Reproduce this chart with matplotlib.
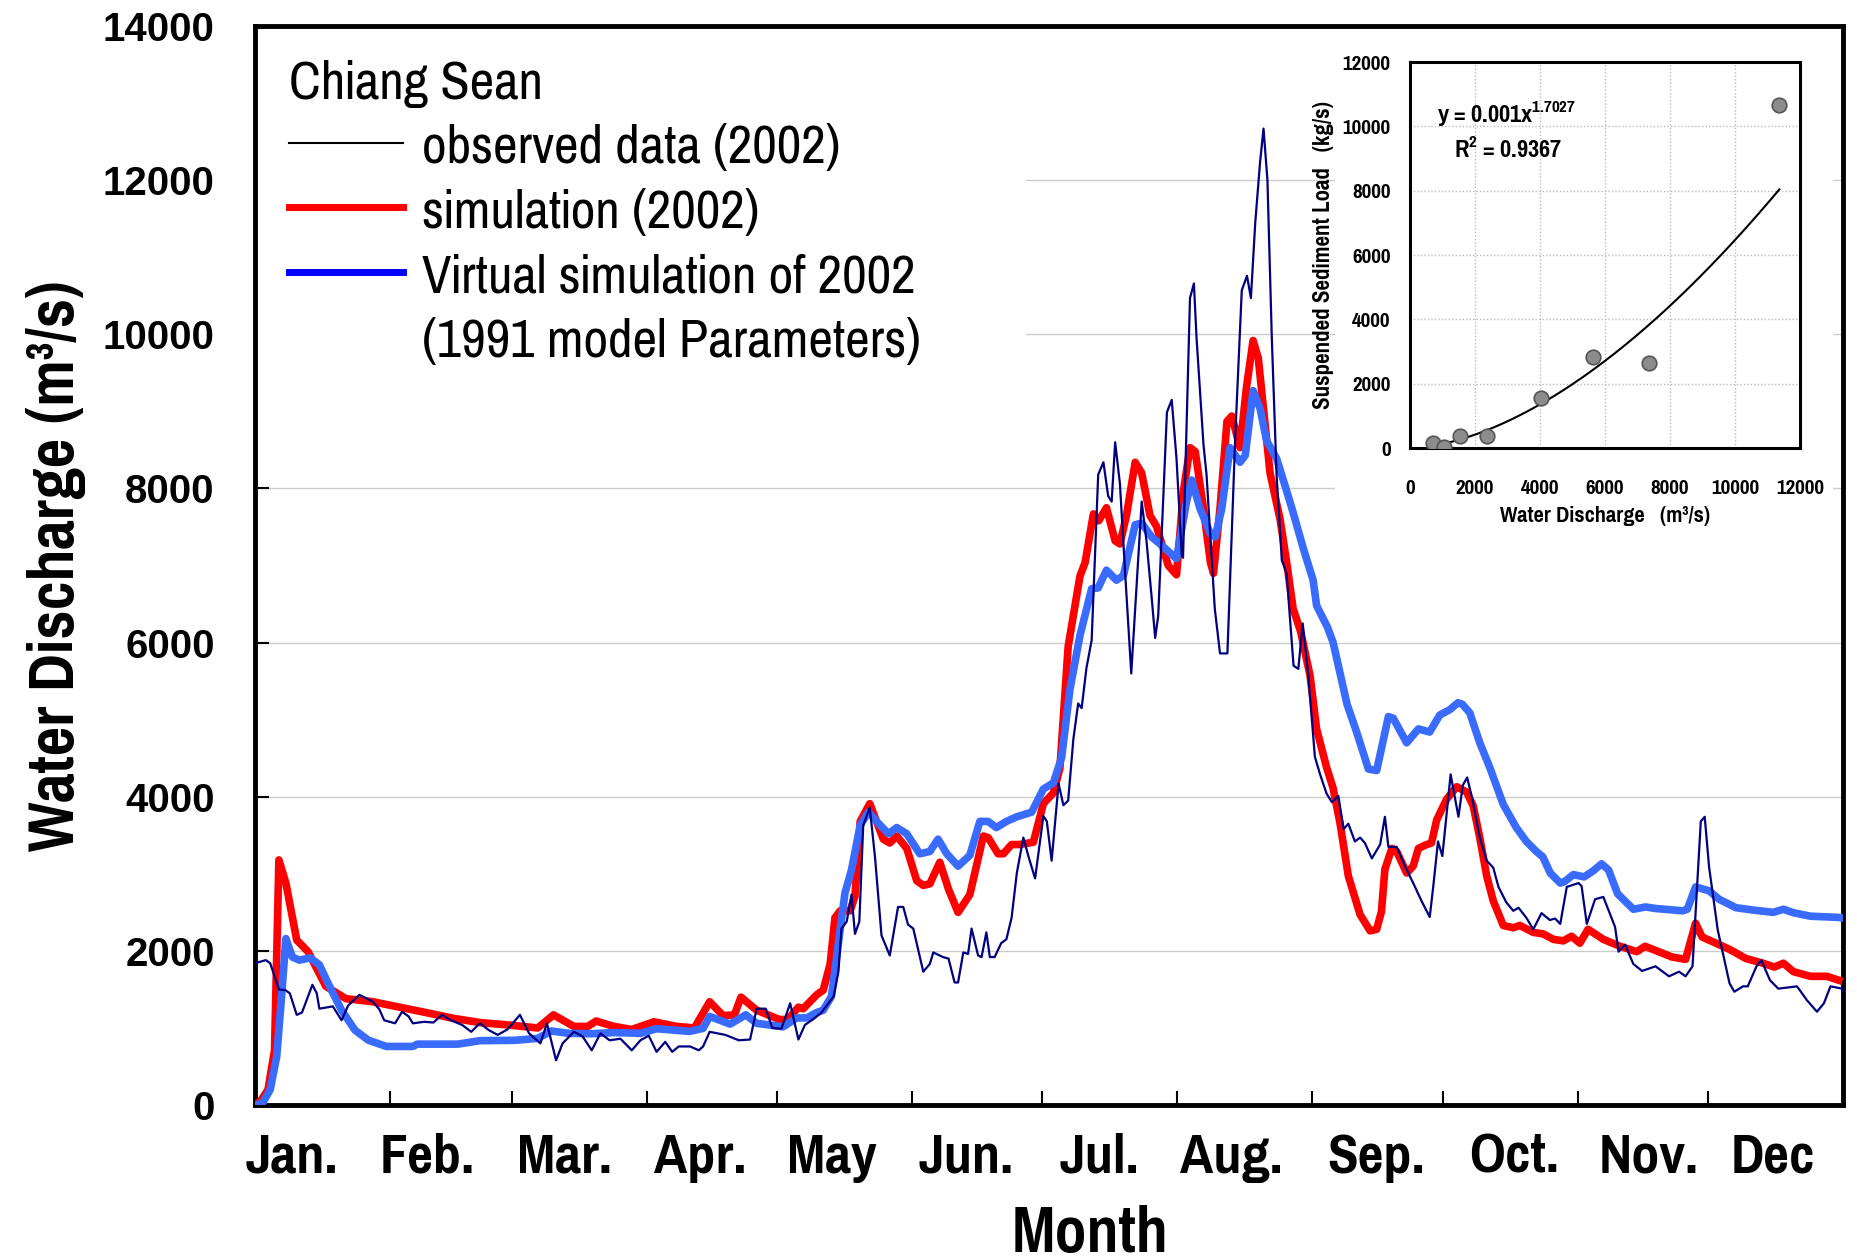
import matplotlib
matplotlib.use("Agg")
import matplotlib.pyplot as plt
from matplotlib.lines import Line2D
from matplotlib.patches import Rectangle
import numpy as np

plt.rcParams['mathtext.default'] = 'regular'
NARROW = ['Pragati Narrow', 'Liberation Sans', 'DejaVu Sans']
WIDE = ['Liberation Sans', 'DejaVu Sans']

# ---- daily discharge, Chiang Sean 2002 (day of year, m3/s) ----
obs_day = [0, 2.5, 3.5, 5.5, 7.0, 8.0, 9.6, 10.8, 12.0, 13.2, 14.2, 14.8, 17.9, 19.9, 21.4, 24.0,
           27.1, 28.6, 29.7, 32.2, 33.8, 35.3, 36.3, 38.9, 41.0, 43.0, 45.0, 47.6, 49.7, 51.7,
           53.8, 55.8, 58.0, 60.9, 63.0, 65.6, 67.1, 69.2, 70.7, 73.3, 75.3, 77.4, 79.4, 81.5,
           84.0, 86.6, 88.6, 90.5, 92.3, 94.3, 95.9, 97.4, 100.0, 102.0, 103.0, 104.5, 108.1,
           111.2, 113.8, 115.3, 117.4, 118.9, 121.0, 123.0, 124.9, 126.4, 128.7, 130.2, 133.0,
           134.1, 134.8, 136.0, 137.1, 137.9, 138.9, 139.8, 141.3, 142.5, 144.0, 145.9, 147.8,
           149.0, 150.1, 151.3, 153.6, 155.1, 155.9, 158.1, 159.4, 160.8, 161.6, 162.8, 163.9,
           164.7, 166.2, 167.0, 168.1, 168.9, 170.0, 171.5, 172.7, 173.9, 175.1, 176.6, 177.8,
           179.3, 181.2, 182.0, 183.1, 184.7, 185.8, 186.9, 188.1, 189.2, 190.0, 191.1, 192.3,
           193.8, 195.0, 196.1, 196.9, 197.7, 198.8, 200.0, 201.4, 203.8, 204.9, 206.1, 206.9,
           207.6, 209.6, 210.7, 211.8, 213.0, 213.3, 214.9, 215.8, 216.4, 218.0, 218.7, 220.6,
           221.8, 223.5, 224.1, 225.3, 226.8, 228.0, 228.9, 229.9, 231.0, 231.8, 232.7, 233.7,
           234.8, 236.0, 237.1, 238.7, 239.8, 240.8, 242.1, 243.6, 244.8, 246.3, 247.5, 249.0,
           250.2, 251.3, 252.8, 254.0, 255.1, 256.7, 258.6, 259.7, 260.5, 262.4, 264.3, 266.2,
           268.1, 270.0, 270.8, 271.9, 272.9, 274.8, 276.6, 277.6, 278.6, 279.8, 281.5, 283.1,
           284.6, 285.8, 287.6, 289.2, 290.4, 292.2, 293.8, 295.7, 297.6, 298.8, 300.0, 301.5,
           304.2, 304.9, 306.1, 308.0, 309.9, 312.6, 313.4, 314.9, 316.8, 318.8, 321.9, 325.0,
           327.3, 328.8, 330.4, 332.3, 333.2, 334.2, 336.2, 338.9, 340.0, 342.0, 343.1, 345.1,
           346.2, 348.2, 350.1, 354.4, 356.7, 359.0, 360.6, 362.1, 364.8, 365.0]
obs_q = [1840, 1880, 1840, 1500, 1490, 1450, 1170, 1200, 1380, 1560, 1450, 1250, 1280, 1100, 1290, 1430,
         1340, 1240, 1100, 1060, 1210, 1150, 1060, 1080, 1070, 1170, 1100, 1040, 950, 1060,
         970, 910, 980, 1170, 930, 800, 1060, 580, 800, 950, 890, 710, 930, 840,
         860, 710, 840, 900, 690, 820, 690, 760, 760, 710, 760, 950, 910,
         840, 850, 1250, 1250, 1000, 990, 1320, 850, 1040, 1130, 1200, 1410,
         1730, 2290, 2380, 2730, 2220, 2380, 3630, 3860, 3220, 2200, 1940, 2570,
         2570, 2340, 2290, 1730, 1830, 1980, 1920, 1900, 1590, 1590, 1980, 1960,
         2290, 1940, 1920, 2240, 1920, 1920, 2100, 2150, 2430, 3010, 3470, 3220,
         2940, 3750, 3680, 3170, 4170, 3890, 3950, 4750, 5210, 5150, 5670, 6030,
         8180, 8340, 7900, 7830, 8600, 8060, 6900, 5600, 7830, 7320, 6580, 6060,
         6350, 8990, 9150, 8390, 7140, 7100, 10470, 10660, 9960, 8570, 8180, 6440,
         5860, 5860, 6810, 8670, 10570, 10760, 10470, 11450, 12230, 12670, 12000, 9960,
         8180, 7070, 6900, 5700, 5660, 6250, 5570, 4520, 4290, 4040, 3930, 4010,
         3580, 3650, 3420, 3470, 3400, 3200, 3380, 3740, 3350, 3350, 3100, 2880,
         2650, 2440, 2830, 3420, 3230, 4290, 3740, 4150, 4250, 3970, 3470, 3170,
         3080, 2830, 2630, 2520, 2560, 2430, 2280, 2490, 2400, 2420, 2350, 2830,
         2880, 2840, 2350, 2670, 2700, 2310, 1990, 2080, 1830, 1740, 1800, 1670,
         1730, 1670, 1800, 3680, 3740, 3090, 2270, 1580, 1470, 1540, 1540, 1800,
         1880, 1620, 1510, 1540, 1360, 1210, 1320, 1540, 1510, 1470]

sim_day = [0, 1.4, 3.0, 4.5, 5.5, 7.1, 9.6, 12.2, 16.3, 20.9, 27.1, 33.2, 38.4, 45.6, 51.7, 57.9,
           65.0, 68.6, 73.3, 76.5, 78.4, 82.5, 86.6, 91.7, 96.9, 101.0, 104.5, 107.6, 110.2,
           111.7, 115.3, 120.5, 122.5, 124.9, 126.0, 129.1, 130.6, 132.2, 133.3, 134.5, 136.8,
           137.9, 139.1, 141.3, 144.4, 145.9, 147.5, 149.8, 152.1, 153.6, 155.1, 157.4, 159.4,
           161.6, 164.3, 167.4, 168.5, 170.8, 172.0, 173.9, 175.8, 178.9, 181.2, 183.5, 185.0,
           186.9, 189.6, 190.8, 192.7, 193.9, 195.7, 197.7, 198.8, 200.3, 202.3, 203.8, 205.7,
           207.2, 209.9, 211.8, 213.4, 214.9, 216.1, 218.0, 219.6, 220.3, 221.8, 223.4, 224.5,
           226.4, 227.9, 229.4, 230.6, 231.7, 233.3, 235.6, 237.1, 238.6, 240.3, 242.5, 244.0,
           246.3, 247.8, 249.4, 251.3, 254.0, 256.3, 257.8, 258.9, 259.7, 261.3, 262.4, 264.7,
           266.2, 267.4, 269.3, 270.4, 271.6, 273.9, 276.2, 278.5, 280.0, 281.5, 283.1, 284.6,
           286.9, 289.2, 290.7, 293.8, 296.1, 298.4, 300.7, 302.6, 304.5, 306.4, 309.9, 313.7,
           317.6, 319.5, 322.6, 325.7, 328.8, 331.1, 332.6, 335.0, 338.9, 342.7, 346.6, 349.2,
           351.3, 353.6, 357.5, 361.3, 364.0]
sim_q = [0, 60, 200, 710, 3180, 2880, 2140, 1990, 1540, 1380, 1340, 1270, 1210, 1125, 1070, 1040,
         1000, 1170, 1020, 1020, 1090, 1020, 980, 1080, 1020, 1000, 1340, 1160, 1170,
         1400, 1230, 1110, 1110, 1270, 1250, 1430, 1490, 1830, 2430, 2520, 2520,
         2710, 3680, 3910, 3450, 3400, 3490, 3330, 2910, 2850, 2870, 3150, 2800,
         2500, 2730, 3490, 3470, 3260, 3260, 3380, 3380, 3410, 3910, 4050, 4370,
         5950, 6860, 7040, 7670, 7580, 7750, 7320, 7280, 7650, 8340, 8200, 7650,
         7510, 7000, 6880, 7970, 8530, 8480, 7740, 7040, 6900, 7740, 8870, 8940,
         8530, 9320, 9920, 9690, 9080, 8200, 7600, 7050, 6440, 6150, 5570, 4880,
         4380, 4110, 3650, 2970, 2470, 2260, 2280, 2510, 3060, 3330, 3290, 3010,
         3100, 3330, 3380, 3400, 3700, 3970, 4130, 4060, 3880, 3470, 2970, 2650,
         2330, 2300, 2330, 2240, 2220, 2150, 2130, 2190, 2100, 2280, 2150, 2060,
         1990, 2060, 1990, 1920, 1890, 2360, 2180, 2120, 2020, 1900, 1840, 1790,
         1840, 1730, 1670, 1670, 1620]

virt_day = [0.5, 1.9, 3.5, 5.0, 6.1, 7.1, 8.6, 10.2, 12.7, 14.8, 16.8, 19.9, 23.0, 26.1, 30.2, 36.3,
            37.3, 46.6, 51.7, 59.9, 65.0, 68.1, 72.2, 77.4, 82.5, 88.6, 92.3, 99.9, 103.0, 104.5,
            109.2, 112.8, 115.3, 121.4, 124.5, 126.8, 129.1, 130.6, 132.5, 134.1, 135.6, 137.1,
            139.1, 141.0, 143.7, 145.6, 147.5, 149.8, 152.8, 155.1, 157.0, 159.0, 161.6, 164.3,
            166.6, 168.5, 170.4, 172.7, 175.1, 178.5, 181.2, 183.5, 185.4, 187.3, 189.6, 192.3,
            193.8, 195.7, 198.0, 199.6, 202.3, 203.8, 206.1, 208.0, 211.8, 214.1, 215.3, 217.2,
            219.6, 220.7, 222.2, 224.1, 226.4, 227.6, 229.4, 231.0, 232.5, 234.8, 237.1, 238.6,
            240.9, 243.2, 244.0, 246.5, 247.8, 251.0, 253.2, 255.9, 257.8, 260.5, 261.6, 264.7,
            267.4, 270.0, 272.3, 274.6, 276.5, 277.5, 279.2, 281.5, 283.8, 286.9, 289.9, 292.2,
            294.5, 296.0, 297.7, 300.0, 301.0, 303.0, 305.5, 307.6, 309.5, 311.1, 313.2, 316.8,
            319.6, 321.9, 328.1, 329.2, 331.1, 334.2, 336.5, 340.4, 344.3, 348.9, 351.3, 353.6,
            357.5, 363.7, 364.5]
virt_q = [0, 40, 200, 630, 1400, 2160, 1920, 1880, 1910, 1820, 1580, 1230, 970, 840, 760, 760,
          790, 790, 835, 840, 865, 960, 930, 925, 940, 930, 990, 955, 995, 1150,
          1050, 1170, 1060, 1015, 1130, 1130, 1200, 1230, 1410, 2100, 2750, 3050,
          3630, 3800, 3630, 3520, 3600, 3520, 3260, 3290, 3450, 3260, 3100, 3240,
          3680, 3680, 3600, 3680, 3740, 3800, 4100, 4180, 4510, 5390, 6090, 6700,
          6710, 6940, 6810, 6870, 7530, 7550, 7370, 7280, 7090, 7830, 8110, 7740,
          7410, 7370, 7740, 8530, 8340, 8430, 9270, 9040, 8620, 8390, 7970, 7690,
          7230, 6810, 6480, 6200, 6000, 5200, 4840, 4360, 4340, 5040, 5020, 4700,
          4880, 4840, 5060, 5130, 5220, 5200, 5090, 4700, 4380, 3900, 3600, 3420,
          3290, 3220, 3010, 2880, 2900, 2990, 2960, 3040, 3130, 3050, 2740, 2540,
          2570, 2550, 2520, 2540, 2830, 2780, 2670, 2560, 2530, 2500, 2540, 2495,
          2450, 2435, 2430]

month_starts = [31, 59, 90, 120, 151, 181, 212, 243, 273, 304, 334]
month_label_pos = [8.5, 39.5, 71.2, 102.3, 132.6, 163.4, 194, 224.3, 257.6, 289.4, 320.4, 348.9]
month_labels = ['Jan.', 'Feb.', 'Mar.', 'Apr.', 'May', 'Jun.', 'Jul.', 'Aug.', 'Sep.', 'Oct.', 'Nov.', 'Dec']

# ---- inset: sediment load vs discharge ----
sed_q = [716, 1034, 1545, 2364, 4045, 5625, 7364, 11364]
sed_load = [145, 41, 384, 363, 1556, 2842, 2645, 10652]
fit_a, fit_b = 0.001, 1.7027

fig = plt.figure(figsize=(18.57, 12.60), dpi=100)
ax = fig.add_axes([0.1373, 0.123, 0.8552, 0.8563])

ax.grid(axis='y', color='#cccccc', linestyle='-', linewidth=1.0)
ax.set_axisbelow(True)
# white boxes behind legend and inset
ax.add_patch(Rectangle((0, 0.684), 0.4855, 0.316, transform=ax.transAxes,
                       facecolor='white', edgecolor='none', zorder=1))
ax.add_patch(Rectangle((0.680, 0.5246), 0.3137, 0.4614, transform=ax.transAxes,
                       facecolor='white', edgecolor='none', zorder=1))

ax.plot(sim_day, sim_q, color='#ff0000', lw=5.5, solid_joinstyle='round', zorder=3)
ax.plot(virt_day, virt_q, color='#3a6bff', lw=5.5, solid_joinstyle='round', zorder=4)
ax.plot(obs_day, obs_q, color='#000080', lw=1.6, zorder=5)

ax.set_xlim(0, 365)
ax.set_ylim(0, 14000)
ax.set_yticks(range(0, 14001, 2000))
ax.set_yticklabels([str(v) for v in range(0, 14001, 2000)], family=WIDE, fontweight='bold', fontsize=29)
ax.tick_params(axis='y', direction='in', length=10, width=1.5, pad=29)
ax.set_xticks(month_starts)
ax.set_xticklabels([])
ax.set_xticks(month_label_pos, minor=True)
ax.set_xticklabels(month_labels, minor=True, family=NARROW, fontweight='bold', fontsize=44)
ax.tick_params(axis='x', which='major', direction='in', length=10, width=1.5)
ax.tick_params(axis='x', which='minor', length=0, pad=20)
for s in ax.spines.values():
    s.set_linewidth(3.5)

ax.set_xlabel('Month', family=NARROW, fontweight='bold', fontsize=50)
ax.xaxis.set_label_coords(0.526, -0.093)
ax.set_ylabel('Water Discharge (m³/s)', family=NARROW, fontweight='bold', fontsize=50, labelpad=12)

handles = [Line2D([], [], color='black', lw=1.5),
           Line2D([], [], color='#ff0000', lw=5),
           Line2D([], [], color='#0000ff', lw=5),
           Line2D([], [], color='none')]
labels = ['observed data (2002)', 'simulation (2002)', 'Virtual simulation of 2002',
          '(1991 model Parameters)']
leg = ax.legend(handles, labels, loc='upper left', bbox_to_anchor=(0.0, 1.0), frameon=False,
                title='Chiang Sean', alignment='left', handlelength=1.95, handletextpad=0.33,
                labelspacing=0.25, borderaxespad=0.18,
                prop={'family': NARROW, 'size': 42},
                title_fontproperties={'family': NARROW, 'size': 42})
leg.set_zorder(6)

# inset
ins = fig.add_axes([0.7593, 0.6444, 0.21, 0.3063])
ins.grid(True, color='#bbbbbb', linestyle=(0, (1, 1.5)), linewidth=1.0)
ins.set_axisbelow(True)
ins.scatter(sed_q, sed_load, s=110, color='#8c8c8c', edgecolors='#555555', linewidths=1.2, zorder=3)
fit_x = np.linspace(min(sed_q), max(sed_q), 200)
ins.plot(fit_x, fit_a * fit_x ** fit_b, color='black', lw=1.5, zorder=2)
ins.set_xlim(0, 12000)
ins.set_ylim(0, 12000)
ins.set_xticks(range(0, 12001, 2000))
ins.set_yticks(range(0, 12001, 2000))
for lab in ins.get_xticklabels() + ins.get_yticklabels():
    lab.set_family(NARROW)
    lab.set_fontweight('bold')
    lab.set_fontsize(16.5)
ins.tick_params(axis='both', length=0)
ins.tick_params(axis='x', pad=22)
ins.tick_params(axis='y', pad=14)
for s in ins.spines.values():
    s.set_linewidth(2.2)
ins.set_xlabel('Water Discharge   (m³/s)', family=NARROW, fontweight='bold', fontsize=17.5, labelpad=6)
ins.set_ylabel('Suspended Sediment Load   (kg/s)', family=NARROW, fontweight='bold', fontsize=18, labelpad=6)
ins.text(830, 10133, 'y = 0.001x$^{1.7027}$', family=NARROW, fontweight='bold', fontsize=19)
ins.text(1341, 9044, 'R$^{2}$ = 0.9367', family=NARROW, fontweight='bold', fontsize=19)

fig.savefig('out.png', dpi=100)
